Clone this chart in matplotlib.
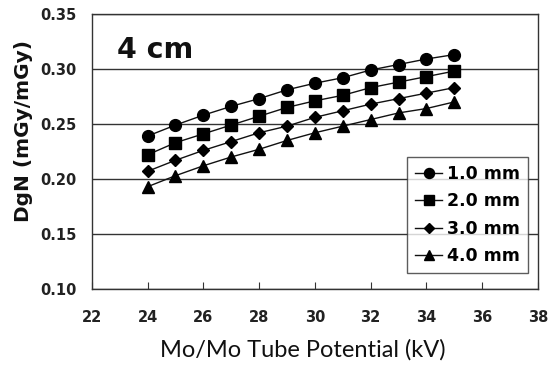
import numpy as np
import matplotlib.pyplot as plt

# tube potential (kV) and DgN values for each filter thickness
kv = [24, 25, 26, 27, 28, 29, 30, 31, 32, 33, 34, 35]
dgn_1mm = [0.239, 0.249, 0.258, 0.266, 0.273, 0.281, 0.287, 0.292, 0.299, 0.304, 0.309, 0.313]
dgn_2mm = [0.222, 0.233, 0.241, 0.249, 0.257, 0.265, 0.271, 0.276, 0.283, 0.288, 0.293, 0.298]
dgn_3mm = [0.207, 0.217, 0.226, 0.234, 0.242, 0.248, 0.256, 0.262, 0.268, 0.273, 0.278, 0.283]
dgn_4mm = [0.193, 0.203, 0.212, 0.220, 0.227, 0.235, 0.242, 0.248, 0.254, 0.260, 0.264, 0.270]

series = [
    (dgn_1mm, 'o', 8.5, '1.0 mm'),
    (dgn_2mm, 's', 8.0, '2.0 mm'),
    (dgn_3mm, 'D', 6.5, '3.0 mm'),
    (dgn_4mm, '^', 8.5, '4.0 mm'),
]

xticks = np.arange(22, 39, 2)
yticks = np.arange(0.10, 0.351, 0.05)

plt.rcParams['font.family'] = ['DejaVu Sans']

fig = plt.figure(figsize=(5.5, 3.65), dpi=100)
ax = fig.add_axes([0.167, 0.208, 0.811, 0.754])

for y, marker, ms, label in series:
    ax.plot(kv, y, color='#111111', lw=1.0, marker=marker, ms=ms,
            markerfacecolor='black', markeredgecolor='black', label=label)

ax.set_xlim(22, 38)
ax.set_ylim(0.10, 0.35)
ax.set_xticks(xticks)
ax.set_yticks(yticks)
ax.set_yticklabels([f'{v:.2f}' for v in yticks])
ax.yaxis.grid(True, color='#333333', lw=1.0)
ax.set_axisbelow(True)

for side in ax.spines.values():
    side.set_color('#333333')
    side.set_linewidth(1.0)

ax.tick_params(axis='x', direction='in', length=5, color='#333333',
               labelsize=10.5, pad=15)
ax.tick_params(axis='y', length=0, labelsize=10.5, pad=11)
for lbl in ax.get_xticklabels() + ax.get_yticklabels():
    lbl.set_fontweight('bold')
    lbl.set_color('#222222')

ax.set_xlabel('Mo/Mo Tube Potential (kV)', family=['Lato', 'DejaVu Sans'],
              fontsize=17, color='#111111')
ax.xaxis.set_label_coords(0.474, -0.182)
ax.set_ylabel('DgN (mGy/mGy)', fontsize=14.5, fontweight='bold',
              color='#111111')
ax.yaxis.set_label_coords(-0.132, 0.573)

ax.text(0.056, 0.84, '4 cm', transform=ax.transAxes, fontsize=20.5,
        fontweight='bold', color='#111111')

leg = ax.legend(loc='lower right', bbox_to_anchor=(0.978, 0.058),
                borderaxespad=0, prop={'weight': 'bold', 'size': 12.5},
                frameon=True, fancybox=False, edgecolor='#333333',
                handlelength=1.55, handletextpad=0.3, labelspacing=0.55,
                borderpad=0.45, markerscale=0.85)
leg.get_frame().set_linewidth(1.0)

fig.savefig('out.png', dpi=100, facecolor='white')
